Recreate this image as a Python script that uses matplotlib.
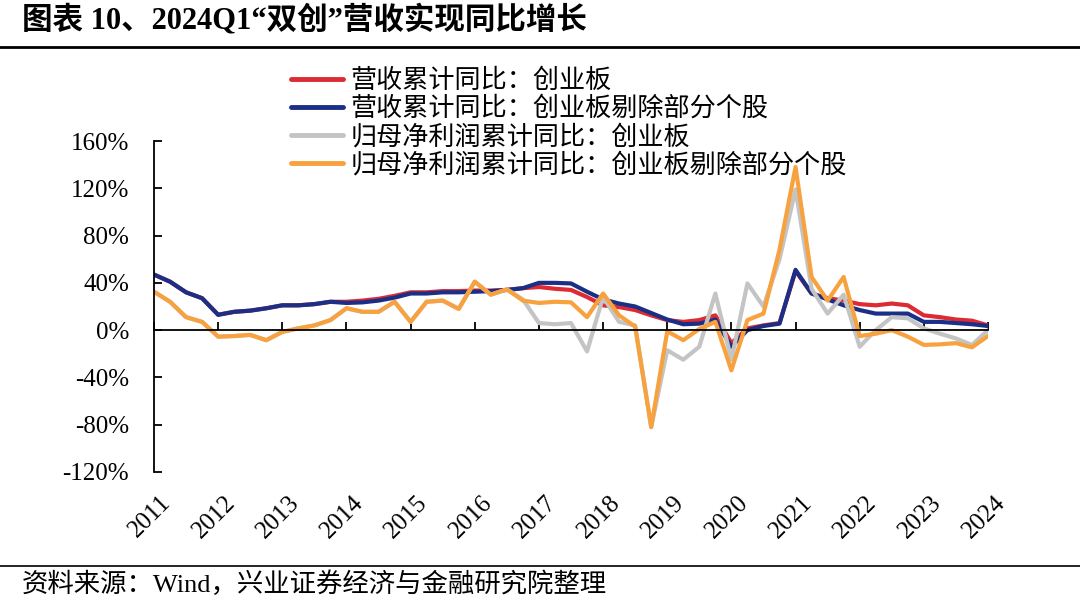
import numpy as np
import matplotlib
matplotlib.use("Agg")
import matplotlib.pyplot as plt
from matplotlib.lines import Line2D
from matplotlib.transforms import ScaledTranslation

plt.rcParams['font.family'] = ['Liberation Serif', 'Noto Sans CJK SC']

# ---- data (quarterly, 2011Q1 .. 2024Q1) ----
years = ['2011', '2012', '2013', '2014', '2015', '2016', '2017',
         '2018', '2019', '2020', '2021', '2022', '2023', '2024']

rev_cyb = [47, 41, 32, 27, 13, 15.5, 16.5, 18.5, 21, 21, 22, 24,
           24, 25, 26.5, 29, 32, 32, 33, 33, 33.5, 33.5, 34, 35.5,
           36.5, 35, 34, 28, 21, 19.5, 17, 12.5, 8.5, 7, 8.5, 12.5,
           -11, 1.5, 4, 6, 50, 31, 27, 25, 22, 21, 22.5, 21,
           12.5, 11, 9, 8, 4]

rev_cyb_ex = [47, 41, 32, 27, 13, 15.5, 16.5, 18.5, 21, 21, 22, 24,
              23, 23.5, 25, 27.5, 31, 31, 32, 32, 32.5, 33, 34, 35.5,
              40, 40, 39.5, 32.5, 26, 22.5, 20, 14.5, 9, 5, 5.5, 9,
              -14, 0, 3.5, 5.5, 51, 31, 26, 21, 17, 14, 14, 14,
              7, 7, 6, 5, 3.5]

np_cyb = [32.5, 24, 11, 7, -5.5, -5, -4, -8.5, -1.5, 1.5, 4, 8.5,
          18.5, 15.5, 15.5, 24, 7, 24, 25, 18, 41, 30, 34.5, 26,
          6, 5, 6, -18, 28, 7, 4, -82, -17, -25, -14, 31,
          -25, 39.5, 20, 60, 119, 35, 14, 30, -14, 0, 11, 10,
          1.5, -3, -7, -12.5, 0]

np_cyb_ex = [32.5, 24, 11, 7, -5.5, -5, -4, -8.5, -1.5, 1.5, 4, 8.5,
             18.5, 15.5, 15.5, 24, 7, 24, 25, 18, 41, 30, 34.5, 25,
             23, 24, 23.5, 11, 31, 12.5, 3, -82, -1, -8.5, 1, 7,
             -34, 8.5, 14, 68, 138, 45, 25, 45, -5, -3, 0, -5.5,
             -12.5, -12, -11, -14.5, -5]

labels = ['营收累计同比：创业板', '营收累计同比：创业板剔除部分个股',
          '归母净利润累计同比：创业板', '归母净利润累计同比：创业板剔除部分个股']
colors = ['#DC2B33', '#1B2F86', '#C4C4C4', '#F7A23E']

yticks = [160, 120, 80, 40, 0, -40, -80, -120]

# ---- figure ----
fig = plt.figure(figsize=(10.8, 6.01), dpi=100)
ax = fig.add_axes([154/1080, 1-472/601, (988-154)/1080, (472-141)/601])

x = np.arange(len(rev_cyb))
series = [rev_cyb, rev_cyb_ex, np_cyb, np_cyb_ex]
for s, c, l in zip(series, colors, labels):
    ax.plot(x, s, color=c, lw=3.0, label=l, solid_joinstyle='round',
            solid_capstyle='round')

ax.set_xlim(0, len(rev_cyb) - 1)
ax.set_ylim(-120, 160)

for side in ['top', 'right']:
    ax.spines[side].set_visible(False)
ax.spines['bottom'].set_position(('data', 0))
ax.spines['bottom'].set_linewidth(1.3)
ax.spines['left'].set_linewidth(1.3)

ax.set_yticks(yticks)
ax.set_yticklabels([f'{v}%' for v in yticks], fontsize=18)
ax.tick_params(axis='y', direction='in', length=6, width=1.3, pad=18)

year_pos = np.arange(0, len(rev_cyb), 4)
ax.set_xticks(year_pos)
ax.tick_params(axis='x', direction='in', length=6, width=1.3,
               labelbottom=False)

sec = ax.secondary_xaxis('bottom')
sec.set_xticks(year_pos)
sec.set_xticklabels(years, fontsize=18, rotation=45, ha='right',
                    va='top', rotation_mode='anchor')
sec.spines['bottom'].set_visible(False)
sec.tick_params(length=0, pad=14)
off = ScaledTranslation(6/100, 0, fig.dpi_scale_trans)
for t in sec.get_xticklabels():
    t.set_transform(t.get_transform() + off)

leg = fig.legend(loc='upper left', bbox_to_anchor=(291/1080, 1-67/601),
                 frameon=False, prop={'family': 'Noto Sans CJK SC', 'size': 18.8},
                 handlelength=2.0, handletextpad=0.28, labelspacing=0.04,
                 borderaxespad=0, borderpad=0)
for h in leg.get_lines():
    h.set_linewidth(3.5)

# title and source
fig.text(22/1080, 1-5/601, '图表 10、2024Q1“双创”营收实现同比增长',
         fontsize=22, fontweight='bold', va='top', ha='left',
         family=['Liberation Serif', 'Noto Sans CJK SC'])
fig.add_artist(Line2D([0, 1], [1-47/601, 1-47/601], color='black', lw=2.0,
                      transform=fig.transFigure))
fig.add_artist(Line2D([0, 1], [1-566/601, 1-566/601], color='black', lw=1.2,
                      transform=fig.transFigure))
fig.text(22/1080, 1-584/601, '资料来源：Wind，兴业证券经济与金融研究院整理',
         fontsize=19, va='center', ha='left',
         family=['Liberation Serif', 'Noto Sans CJK SC'])

fig.savefig('out.png', dpi=100)
